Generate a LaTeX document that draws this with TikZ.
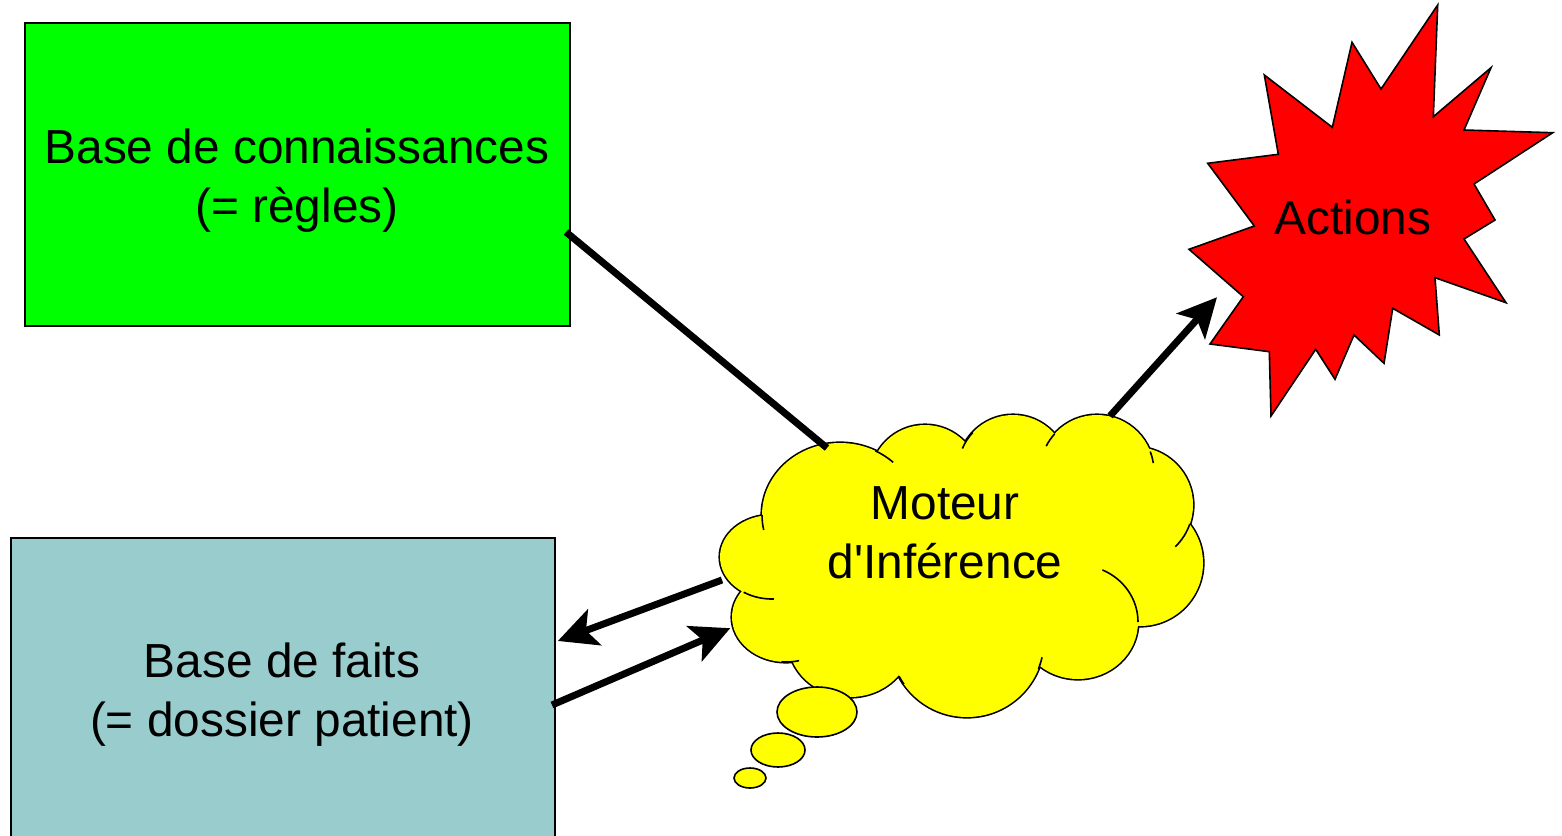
\documentclass[tikz,border=0pt]{standalone}
\usepackage{fontspec}
\setmainfont{Liberation Sans}[Ligatures=TeXOff]
\usetikzlibrary{arrows.meta}
\definecolor{kbgreen}{HTML}{00FF00}
\definecolor{factblue}{HTML}{99CCCC}
\definecolor{cloudyellow}{HTML}{FFFF00}
\definecolor{burstred}{HTML}{FF0000}
\begin{document}
\begin{tikzpicture}[x=1pt,y=-1pt,
  lbl/.style={font=\fontsize{47.8}{59}\selectfont, align=center, text=black},
  boxst/.style={draw=black, line width=1.6pt, inner sep=0pt},
  conn/.style={line width=7pt, draw=black},
  tipst/.style={-{Stealth[length=39pt,width=38pt,inset=9pt,sep=3pt]}},
  tailst/.style={draw=black, line width=1.6pt}
]
\useasboundingbox (0,0) rectangle (1562,835);
% boxes
\node[boxst, fill=kbgreen, minimum width=545pt, minimum height=303pt, anchor=north west] (kb) at (24,22) {};
\node[lbl] (kbt) at (297,181) {Base de connaissances\\(= règles)};
\node[boxst, fill=factblue, minimum width=544pt, minimum height=310pt, anchor=north west] (facts) at (10,537) {};
\node[lbl] (factst) at (282,695) {Base de faits\\(= dossier patient)};
% starburst
\draw[fill=burstred, draw=black, line width=1.6pt, line join=miter]
 (1437.7,5) -- (1433.3,116.7) -- (1491,67.7) -- (1464,130) -- (1552.7,132.7)
 -- (1474,184) -- (1495,220) -- (1464,239) -- (1506,302.7) -- (1435,277.7)
 -- (1439.3,335) -- (1392.7,308.3) -- (1384,363.3) -- (1354,335) -- (1335,379.3)
 -- (1315.7,349.3) -- (1271,416) -- (1269.3,351.7) -- (1210,344) -- (1243.3,296.7)
 -- (1189,249.3) -- (1254.3,226) -- (1207.7,163.3) -- (1278.3,154.3) -- (1264.3,75)
 -- (1332.3,127.3) -- (1352,42.3) -- (1381,89) -- cycle;
\node[lbl] (act) at (1353,217) {Actions};
% cloud: stroked outlines, then fill, then inner arcs
\def\puffs{840/515/78/72, 925/480/55/55, 1013/470/55/55, 1097/472/57/57, 1135/505/58/58,
   1140/563/63/63, 1078/622/60/57, 967/640/77/77, 850/640/62/57, 786/617/54/45, 772/557/52/42}
\foreach \cx/\cy/\rx/\ry in \puffs
  \draw[line width=3.2pt] (\cx,\cy) ellipse [x radius=\rx, y radius=\ry];
\foreach \cx/\cy/\rx/\ry in \puffs
  \fill[cloudyellow] (\cx,\cy) ellipse [x radius=\rx, y radius=\ry];
\fill[cloudyellow] (960,560) ellipse [x radius=180, y radius=100];
\foreach \cx/\cy/\rx/\ry/\a/\b in {840/515/78/72/180/192, 840/515/78/72/63/47,
   1013/470/55/55/137/157, 1097/472/57/57/138/153, 1097/472/57/57/21/9,
   1135/505/58/58/-19/-46, 1078/622/60/57/66/0, 967/640/77/77/-22/-13,
   967/640/77/77/-152/-145, 786/617/54/45/-95/-76, 772/557/52/42/-123/-88}
  \draw[tailst] (\cx,\cy) ++({\rx*cos(\a)},{-\ry*sin(\a)}) arc[start angle=-\a, end angle=-\b, x radius=\rx, y radius=\ry];
% thought bubbles
\draw[fill=cloudyellow, line width=1.6pt] (817,712) ellipse [x radius=40, y radius=25];
\draw[fill=cloudyellow, line width=1.6pt] (778,750) ellipse [x radius=27, y radius=17];
\draw[fill=cloudyellow, line width=1.6pt] (750,778) ellipse [x radius=16, y radius=10];
\node[lbl] (mot) at (945,533) {Moteur\\d'Inférence};
% connector endpoints
\coordinate (kbR) at (566,232);
\coordinate (motTL) at (827,448);
\coordinate (motTR) at (1110,416);
\coordinate (actIn) at (1219,295);
\coordinate (motL) at (722,580);
\coordinate (factsIn) at (555,642);
\coordinate (factsR) at (552,705);
\coordinate (motIn) at (733,627);
\draw[conn] (kbR) -- (motTL);
\draw[conn, tipst] (motTR) -- (actIn);
\draw[conn, tipst] (motL) -- (factsIn);
\draw[conn, tipst] (factsR) -- (motIn);
\end{tikzpicture}
\end{document}
